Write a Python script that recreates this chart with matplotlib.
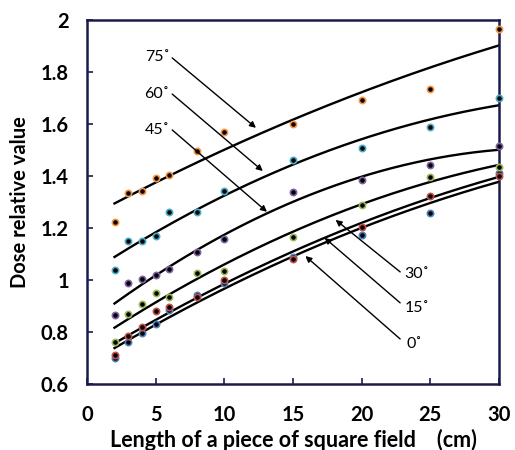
import matplotlib
matplotlib.use("Agg")
import matplotlib.pyplot as plt
import numpy as np

plt.rcParams["font.family"] = ["Lato", "DejaVu Sans"]

# measured points (x = side length of square field, cm)
field = [2, 3, 4, 5, 6, 8, 10, 15, 20, 25, 30]
pts_75 = [1.223, 1.333, 1.341, 1.392, 1.405, 1.495, 1.569, 1.601, 1.692, 1.733, 1.967]
pts_60 = [1.037, 1.149, 1.150, 1.169, 1.263, 1.260, 1.343, 1.462, 1.507, 1.590, 1.699]
pts_45 = [0.865, 0.988, 1.003, 1.019, 1.041, 1.107, 1.159, 1.337, 1.385, 1.441, 1.515]
pts_30 = [0.762, 0.868, 0.906, 0.949, 0.936, 1.026, 1.036, 1.164, 1.288, 1.397, 1.436]
pts_15 = [0.713, 0.786, 0.820, 0.881, 0.896, 0.933, 1.000, 1.081, 1.205, 1.324, 1.401]
pts_0 = [0.701, 0.760, 0.797, 0.830, 0.885, 0.942, 0.990, 1.088, 1.173, 1.256, 1.413]

angles = ["0˚", "15˚", "30˚", "45˚", "60˚", "75˚"]
colors = ["#4f81bd", "#c0504d", "#9bbb59", "#8064a2", "#4bacc6", "#f79646"]
all_pts = [pts_0, pts_15, pts_30, pts_45, pts_60, pts_75]

# label position, arrow tail, arrow head (data coords)
arrows = {
    "75˚": ((5.1, 1.858), (6.2, 1.854), (12.3, 1.585)),
    "60˚": ((5.1, 1.715), (6.2, 1.715), (12.8, 1.419)),
    "45˚": ((5.1, 1.577), (6.2, 1.577), (13.1, 1.262)),
    "30˚": ((24.0, 1.023), (22.8, 1.031), (18.1, 1.231)),
    "15˚": ((24.0, 0.892), (22.8, 0.912), (17.3, 1.162)),
    "0˚": ((23.8, 0.754), (22.8, 0.773), (15.9, 1.092)),
}

FRAME = "#1c1a4c"

fig = plt.figure(figsize=(5.15, 4.5), dpi=100)
ax = fig.add_axes([0.169, 0.1467, 0.8, 0.809])

# 2nd-order polynomial trendline through each series
xx = np.linspace(min(field), max(field), 200)
for pts in all_pts:
    coef = np.polyfit(field, pts, 2)
    ax.plot(xx, np.polyval(coef, xx), color="black", lw=1.7, zorder=2)
for pts, c in zip(all_pts, colors):
    ax.plot(field, pts, ls="none", marker="o", ms=4.5, mfc="black", mec=c, mew=1.2,
            zorder=3, clip_on=False)

for lab, (tpos, tail, head) in arrows.items():
    ax.annotate("", xy=head, xytext=tail,
                arrowprops=dict(arrowstyle="-|>", color="black", lw=1.0,
                                mutation_scale=9, shrinkA=0, shrinkB=0))
    ax.text(tpos[0], tpos[1], lab, ha="center", va="center", fontsize=11.5)

ax.set_xlim(0, 30)
ax.set_ylim(0.6, 2.0)
ax.set_xticks([0, 5, 10, 15, 20, 25, 30])
ax.set_yticks([0.6, 0.8, 1.0, 1.2, 1.4, 1.6, 1.8, 2.0])
ax.set_yticklabels(["0.6", "0.8", "1", "1.2", "1.4", "1.6", "1.8", "2"])
ax.tick_params(direction="in", length=4, width=1.2, color=FRAME, labelsize=14.5)
ax.tick_params(axis="x", pad=15)
ax.tick_params(axis="y", pad=13)
for t in ax.get_xticklabels() + ax.get_yticklabels():
    t.set_fontweight("bold")
for s in ax.spines.values():
    s.set_color(FRAME)
    s.set_linewidth(1.8)

ax.set_xlabel("Length of a piece of square field    (cm)", fontsize=15.5,
              fontweight="bold", labelpad=3)
ax.set_ylabel("Dose relative value", fontsize=14.5, fontweight="bold", labelpad=8)

fig.savefig("out.png", dpi=100)
